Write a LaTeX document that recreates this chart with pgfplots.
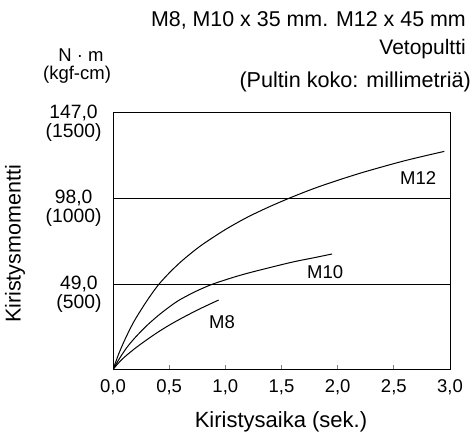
\documentclass[border=0pt]{standalone}
\usepackage{fontspec}
\setmainfont{Liberation Sans}
\usepackage{pgfplots}
\pgfplotsset{compat=1.18}
\begin{document}
\begin{tikzpicture}[x=1pt,y=1pt]
\path (0,0) rectangle (476,437);
\begin{axis}[
  at={(113pt,67.5pt)}, anchor=south west,
  scale only axis, width=337pt, height=256.5pt,
  xmin=0, xmax=3, ymin=0, ymax=147,
  axis line style={line width=1pt},
  xtick={0,0.5,1,1.5,2,2.5,3},
  xticklabels={{0,0},{0,5},{1,0},{1,5},{2,0},{2,5},{3,0}},
  xtick pos=bottom, tick align=inside, major tick length=4.5pt,
  xtick style={line width=1pt},
  ytick={49,98,147},
  yticklabels={{49,0\\(500)},{98,0\\(1000)},{147,0\\(1500)}},
  ytick style={draw=none},
  ymajorgrids, major grid style={black, line width=1pt},
  tick label style={font=\fontsize{18.5}{19}\selectfont},
  yticklabel style={font=\fontsize{19.3}{19}\selectfont, align=center, yshift=-10pt, xshift=-8pt},
  xticklabel style={yshift=-7pt},
]
\addplot[black, line width=1pt, smooth, no marks] coordinates {(0,0) (0.05,8.8) (0.1,16.3) (0.15,23) (0.2,29) (0.3,39.2) (0.4,48.2) (0.5,55.3) (0.6,61.5) (0.7,66.9) (0.8,71.8) (1.0,80.2) (1.2,87.4) (1.4,93.5) (1.6,99) (1.8,104) (2.0,108.4) (2.2,112.5) (2.4,116.2) (2.6,119.7) (2.8,122.8) (2.95,125)};
\addplot[black, line width=1pt, smooth, no marks] coordinates {(0,0) (0.05,5.5) (0.1,10.5) (0.14,14) (0.2,18.5) (0.29,24.5) (0.4,30.8) (0.5,35.8) (0.585,39.6) (0.7,43.6) (0.775,45.9) (0.89,49) (1.07,52.8) (1.2,55.2) (1.37,58) (1.6,61.6) (1.8,64.2) (1.95,66.2)};
\addplot[black, line width=1pt, smooth, no marks] coordinates {(0,0) (0.05,3.8) (0.1,7.0) (0.2,12.3) (0.3,17.0) (0.4,21.4) (0.5,25.4) (0.6,29.0) (0.7,32.4) (0.8,35.6) (0.94,39.8)};
\node[font=\fontsize{18.5}{20}\selectfont] at (axis cs:2.716,109.7) {M12};
\node[font=\fontsize{18.5}{20}\selectfont] at (axis cs:1.888,55.9) {M10};
\node[font=\fontsize{18.5}{20}\selectfont] at (axis cs:0.97,27.2) {M8};
\end{axis}
\node[font=\fontsize{21.4}{23}\selectfont, anchor=base east, inner sep=0pt] at (466,410) {M8, M10 x 35 mm. M12 x 45 mm};
\node[font=\fontsize{21}{23}\selectfont, anchor=base east, inner sep=0pt] at (466,382) {Vetopultti};
\node[font=\fontsize{21.6}{23}\selectfont, anchor=base east, inner sep=0pt] at (471,349) {(Pultin koko: millimetriä)};
\node[font=\fontsize{18.5}{20}\selectfont, anchor=base, inner sep=0pt] at (81,375) {N · m};
\node[font=\fontsize{18.5}{20}\selectfont, anchor=base, inner sep=0pt] at (77,357) {(kgf-cm)};
\node[font=\fontsize{21.5}{23}\selectfont, rotate=90] at (15,193) {Kiristysmomentti};
\node[font=\fontsize{22}{24}\selectfont] at (281,15.3) {Kiristysaika (sek.)};
\end{tikzpicture}
\end{document}
